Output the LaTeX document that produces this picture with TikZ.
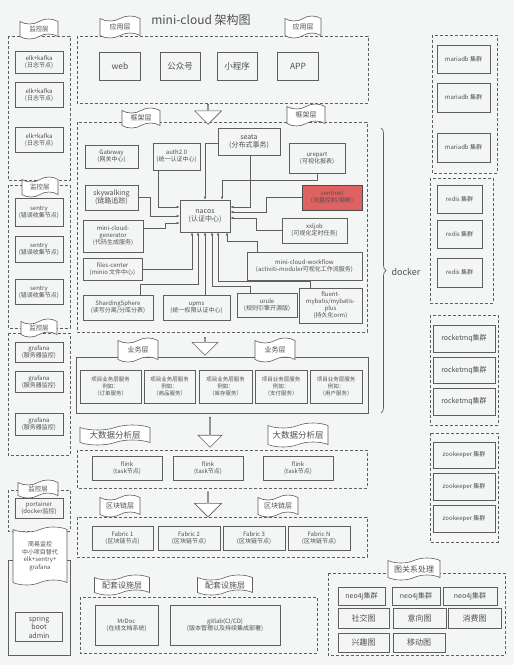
\documentclass[tikz,border=0pt]{standalone}
\usepackage{fontspec}
\setmainfont{Noto Sans CJK SC}
\usetikzlibrary{shapes.symbols,shapes.arrows,arrows.meta,decorations.pathreplacing}

\definecolor{bgc}{RGB}{243,246,244}
\definecolor{linec}{RGB}{95,95,95}
\definecolor{textc}{RGB}{80,80,80}
\definecolor{alarm}{RGB}{222,98,98}

\tikzset{
  box/.style={draw=linec, line width=0.6pt, text=textc, align=center, inner sep=1pt, font=\fontsize{6}{7}\selectfont},
  midbox/.style={box, font=\fontsize{7}{8.5}\selectfont},
  bigbox/.style={box, font=\fontsize{8.5}{10}\selectfont},
  sz/.style 2 args={minimum width=#1, minimum height=#2},
  layer/.style={draw=linec, line width=0.7pt, dash pattern=on 3pt off 2pt},
  solidlayer/.style={draw=linec, line width=0.7pt},
  banner/.style={tape, draw=linec, fill=white, line width=0.6pt, text=textc, align=center, inner sep=1pt, tape bend height=5pt, font=\fontsize{7}{8}\selectfont},
  hollow/.style={single arrow, draw=linec, fill=white, line width=0.6pt, rotate=-90, single arrow head extend=6pt, inner sep=0pt},
  link/.style={draw=linec, line width=0.6pt, -{Latex[length=3pt,width=2.5pt]}},
}

\begin{document}
\begin{tikzpicture}[x=1pt,y=-1pt]
\fill[bgc] (0,0) rectangle (514,665);
\useasboundingbox (0,0) rectangle (514,665);

\node[text=textc, font=\fontsize{12}{14}\selectfont] (title) at (201,20) {mini-cloud 架构图};

% containers
\draw[layer] (8,36) rectangle (70,180);
\draw[layer] (8,185) rectangle (70,328);
\draw[layer] (8,333) rectangle (70,455);
\draw[layer] (8,490) rectangle (70,531);
\draw[solidlayer] (8,560) rectangle (70,655);
\draw[layer] (77,36) rectangle (368,103);
\draw[layer] (77,122) rectangle (367,332);
\draw[solidlayer] (76,357) rectangle (368,413);
\draw[layer] (77,450) rectangle (367,488);
\draw[layer] (77,517) rectangle (367,557);
\draw[layer] (80,597) rectangle (317,653);
\draw[layer] (432,35) rectangle (497,173);
\draw[layer] (430,178) rectangle (493,303);
\draw[layer] (430,315) rectangle (498,425);
\draw[layer] (430,433) rectangle (498,542);
\draw[layer] (328,573) rectangle (505,655);

% monitoring
\node[box, sz={48}{22}] (elkA) at (39,62) {elk+kafka\\(日志节点)};
\node[box, sz={48}{25}] (elkB) at (39,95) {elk+kafka\\(日志节点)};
\node[box, sz={48}{25}] (elkC) at (39,140) {elk+kafka\\(日志节点)};
\node[box, sz={48}{28}] (sentryA) at (39,212) {sentry\\(错误收集节点)};
\node[box, sz={48}{26}] (sentryB) at (39,249) {sentry\\(错误收集节点)};
\node[box, sz={48}{25}] (sentryC) at (39,292) {sentry\\(错误收集节点)};
\node[box, sz={48}{20}] (grafanaA) at (39,352) {grafana\\(服务器监控)};
\node[box, sz={48}{21}] (grafanaB) at (39,382) {grafana\\(服务器监控)};
\node[box, sz={48}{22}] (grafanaC) at (39,424) {grafana\\(服务器监控)};
\node[box, sz={48}{20}] (portainer) at (39,508) {portainer\\(docker监控)};
\node[midbox, sz={47}{29}] (sba) at (39,627) {spring\\boot\\admin};

\node[banner, sz={38}{20}, font=\fontsize{6.5}{7}\selectfont] (monA) at (39,29) {监控层};
\node[banner, sz={36}{20}, font=\fontsize{6.5}{7}\selectfont] (monB) at (40,187) {监控层};
\node[banner, sz={36}{18}, font=\fontsize{6.5}{7}\selectfont] (monC) at (39,328) {监控层};
\node[banner, sz={40}{18}, font=\fontsize{6.5}{7}\selectfont] (monD) at (38,489) {监控层};
\node[banner, sz={54}{58}, font=\fontsize{6}{7.5}\selectfont] (lite) at (40,556) {简易监控\\中小项目替代\\elk+sentry+\\grafana};

% application layer
\node[bigbox, sz={41}{28}] (web) at (120,66) {web};
\node[bigbox, sz={40}{28}] (gzh) at (180,66) {公众号};
\node[bigbox, sz={40}{28}] (mini) at (237,66) {小程序};
\node[bigbox, sz={41}{28}] (app) at (298,66) {APP};
\node[banner, sz={40}{22}] (appA) at (120,27) {应用层};
\node[banner, sz={36}{22}] (appB) at (303,27) {应用层};
\node[hollow, minimum height=20, minimum width=27] (downA) at (208,114) {};

% framework layer
\node[banner, sz={38}{20}] (fwA) at (141,118) {框架层};
\node[banner, sz={38}{22}] (fwB) at (306,115) {框架层};
\node[box, sz={53}{23}] (gateway) at (111.5,156.5) {Gateway\\(网关中心)};
\node[box, sz={47}{27}] (auth) at (176.5,156.5) {auth2.0\\(统一认证中心)};
\node[midbox, sz={62}{27}] (seata) at (249,141.5) {seata\\(分布式事务)};
\node[box, sz={56}{30}] (urepart) at (317,158) {urepart\\(可视化报表)};
\node[box, sz={60}{25}, fill=alarm, draw=linec!80!black] (sentinel) at (332,197.5) {sentinel\\(流量控制/熔断)};
\node[midbox, sz={53}{25}] (skywalking) at (111.5,197.5) {skywalking\\(链路追踪)};
\node[midbox, sz={50}{32}] (nacos) at (205,216) {nacos\\(认证中心)};
\node[box, sz={60}{32}] (generator) at (113,236) {mini-cloud-\\generator\\(代码生成服务)};
\node[box, sz={59}{22}] (files) at (112.5,269) {files-center\\(minio 文件中心)};
\node[box, sz={70}{25}] (sharding) at (118,307.5) {ShardingSphere\\(读写分离/分库分表)};
\node[box, sz={67}{25}] (upms) at (196.5,307.5) {upms\\(统一权限认证中心)};
\node[box, sz={60}{24}] (urule) at (267,305) {urule\\(规则引擎开源版)};
\node[box, sz={63}{35}] (fluent) at (330.5,305.5) {fluent-\\mybatis/mybatis-\\plus\\(持久化orm)};
\node[box, sz={65}{25}] (xxljob) at (314.5,230.5) {xxljob\\(可视化定时任务)};
\node[box, sz={115}{28}] (workflow) at (304.5,266) {mini-cloud-workflow\\(activiti-moduler可视化工作流服务)};

% links into nacos
\draw[link] ([xshift=-18.5pt]auth.south) |- ([yshift=9pt]nacos.west);
\draw[link] (skywalking.east) -- ++(12,0) |- (nacos.west);
\draw[link] ([yshift=8pt]generator.east) -- ++(22,0) |- ([yshift=-7pt]nacos.west);
\draw[link] ([yshift=-1.5pt]seata.west) -| (nacos.north);
\draw[link] ([xshift=1pt]seata.south) |- ([yshift=9pt]nacos.east);
\draw[link] (urepart.south) -- ++(0,7) -| ([xshift=17pt]nacos.north);
\draw[link] (sentinel.west) -- ++(-35,0) |- ([yshift=4pt]nacos.east);
\draw[link] (xxljob.west) -- ++(-25,0) |- ([yshift=-2pt]nacos.east);
\draw[link] ([xshift=-47pt]workflow.north) -- ++(0,-10) -| ([xshift=22pt]nacos.south);
\draw[link] (files.east) -| ([xshift=-13pt]nacos.south);
\draw[link] ([xshift=22pt]sharding.north) -- ++(0,-10) -| ([xshift=-7pt]nacos.south);
\draw[link] ([xshift=8.5pt]upms.north) -- (nacos.south);
\draw[link] ([xshift=-17pt]urule.north) -- ++(0,-6) -| ([xshift=7pt]nacos.south);
\draw[link] ([xshift=-20pt]fluent.north) -- ++(0,-6) -| ([xshift=13pt]nacos.south);

% docker
\draw[linec, line width=0.7pt, decorate, decoration={brace, amplitude=5pt}] (381,128) -- (381,413);
\node[text=textc, anchor=west, font=\fontsize{9}{10}\selectfont] (docker) at (388,272) {docker};

% business layer
\node[hollow, minimum height=18, minimum width=26] (downB) at (205,346) {};
\node[banner, sz={40}{24}] (bizA) at (138,350) {业务层};
\node[banner, sz={40}{24}] (bizB) at (275,350) {业务层};
\node[box, sz={61}{33}, font=\fontsize{5.5}{7}\selectfont] (order) at (110.5,386.5) {项目业务层服务\\例如：\\（订单服务）};
\node[box, sz={51}{33}, font=\fontsize{5.5}{7}\selectfont] (goods) at (169.5,386.5) {项目业务层服务\\例如：\\（商品服务）};
\node[box, sz={53}{33}, font=\fontsize{5.5}{7}\selectfont] (stock) at (225.5,386.5) {项目业务层服务\\例如：\\（库存服务）};
\node[box, sz={52}{33}, font=\fontsize{5.5}{7}\selectfont] (pay) at (281,386.5) {项目业务层服务\\例如：\\（支付服务）};
\node[box, sz={52}{33}, font=\fontsize{5.5}{7}\selectfont] (user) at (336,386.5) {项目业务层服务\\例如：\\（用户服务）};

% big data layer
\node[hollow, minimum height=30, minimum width=24] (downC) at (210,432) {};
\node[banner, sz={70}{20}, font=\fontsize{8.5}{9}\selectfont] (bdA) at (115,435) {大数据分析层};
\node[banner, sz={60}{24}, font=\fontsize{8.5}{9}\selectfont] (bdB) at (298,435) {大数据分析层};
\node[box, sz={70}{24}] (flinkA) at (127,468) {flink\\(task节点)};
\node[box, sz={70}{24}] (flinkB) at (208,468) {flink\\(task节点)};
\node[box, sz={70}{24}] (flinkC) at (298,468) {flink\\(task节点)};

% blockchain layer
\node[hollow, minimum height=25, minimum width=27] (downD) at (208,504) {};
\node[banner, sz={40}{22}] (bcA) at (120,506) {区块链层};
\node[banner, sz={40}{22}] (bcB) at (278,506) {区块链层};
\node[box, sz={61}{24}] (fabA) at (122.5,538) {Fabric 1\\(区块链节点)};
\node[box, sz={62}{24}] (fabB) at (189,538) {Fabric 2\\(区块链节点)};
\node[box, sz={62}{24}] (fabC) at (254,538) {Fabric 3\\(区块链节点)};
\node[box, sz={62}{24}] (fabN) at (319,538) {Fabric N\\(区块链节点)};

% support layer
\node[banner, sz={55}{20}, font=\fontsize{8}{9}\selectfont] (supA) at (122,585) {配套设施层};
\node[banner, sz={55}{20}, font=\fontsize{8}{9}\selectfont] (supB) at (225,585) {配套设施层};
\node[box, sz={63}{40}] (mrdoc) at (126.5,625) {MrDoc\\(在线文档系统)};
\node[box, sz={110}{40}] (gitlab) at (225,625) {gitlab(CI/CD)\\(版本管理以及持续集成部署)};

% data clusters
\node[box, sz={53}{28}] (mariaA) at (463.5,59) {mariadb 集群};
\node[box, sz={53}{29}] (mariaB) at (463.5,97.5) {mariadb 集群};
\node[box, sz={53}{29}] (mariaC) at (463.5,147.5) {mariadb 集群};
\node[box, sz={45}{28}] (redisA) at (459.5,199) {redis 集群};
\node[box, sz={45}{28}] (redisB) at (459.5,234) {redis 集群};
\node[box, sz={45}{29}] (redisC) at (459.5,272.5) {redis 集群};
\node[midbox, sz={62}{27}] (mqA) at (464,338.5) {rocketmq集群};
\node[midbox, sz={62}{26}] (mqB) at (464,370) {rocketmq集群};
\node[midbox, sz={62}{27}] (mqC) at (464,401.5) {rocketmq集群};
\node[box, sz={62}{26}] (zkA) at (464,455) {zookeeper 集群};
\node[box, sz={62}{27}] (zkB) at (464,486.5) {zookeeper 集群};
\node[box, sz={62}{27}] (zkC) at (464,518.5) {zookeeper 集群};

% graph processing
\node[banner, sz={52}{22}, font=\fontsize{8}{9}\selectfont] (graph) at (414,569) {图关系处理};
\node[midbox, sz={47}{18}] (neoA) at (361.5,596) {neo4j集群};
\node[midbox, sz={48}{18}] (neoB) at (416,596) {neo4j集群};
\node[midbox, sz={54}{18}] (neoC) at (470,596) {neo4j集群};
\node[midbox, sz={51}{20}, font=\fontsize{8}{9}\selectfont] (social) at (363.5,618) {社交图};
\node[midbox, sz={53}{20}, font=\fontsize{8}{9}\selectfont] (intent) at (419.5,618) {意向图};
\node[midbox, sz={53}{20}, font=\fontsize{8}{9}\selectfont] (spend) at (474.5,618) {消费图};
\node[midbox, sz={51}{19}, font=\fontsize{8}{9}\selectfont] (interest) at (363.5,642.5) {兴趣图};
\node[midbox, sz={52}{19}, font=\fontsize{8}{9}\selectfont] (mobile) at (419,642.5) {移动图};
\end{tikzpicture}
\end{document}
